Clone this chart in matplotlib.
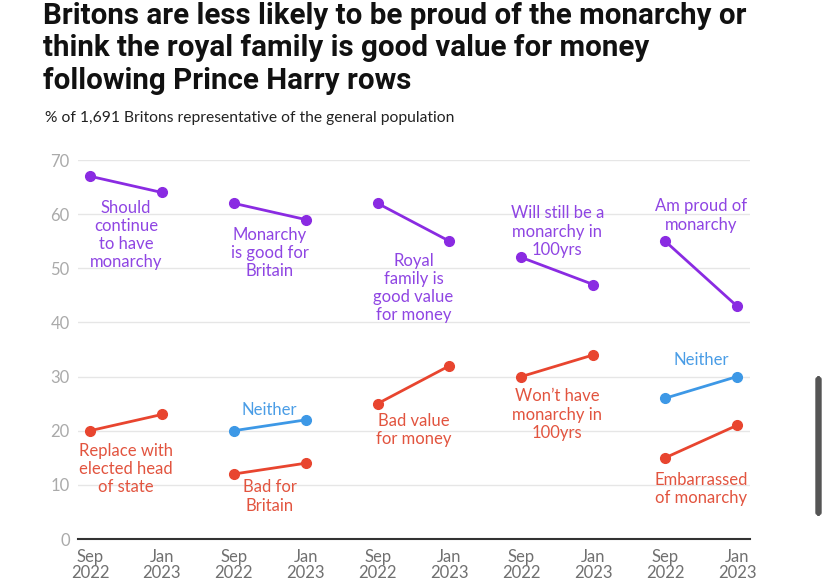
import matplotlib.pyplot as plt
from matplotlib.patches import FancyBboxPatch

# panel x positions (Sep 2022 / Jan 2023 pairs)
xs = [(0, 1), (2, 3), (4, 5), (6, 7), (8, 9)]
x_labels = ["Sep\n2022", "Jan\n2023"] * 5

purple_vals = [(67, 64), (62, 59), (62, 55), (52, 47), (55, 43)]
purple_labels = ["Should\ncontinue\nto have\nmonarchy", "Monarchy\nis good for\nBritain",
                 "Royal\nfamily is\ngood value\nfor money", "Will still be a\nmonarchy in\n100yrs",
                 "Am proud of\nmonarchy"]
purple_label_y = [62.6, 57.6, 52.8, 61.6, 62.9]

red_vals = [(20, 23), (12, 14), (25, 32), (30, 34), (15, 21)]
red_labels = ["Replace with\nelected head\nof state", "Bad for\nBritain", "Bad value\nfor money",
              "Won\u2019t have\nmonarchy in\n100yrs", "Embarrassed\nof monarchy"]
red_label_y = [17.7, 11.0, 23.2, 27.8, 12.3]

blue_panels = [1, 4]
blue_vals = [(20, 22), (26, 30)]
blue_label_y = [23.8, 33.0]

PURPLE = "#8a2be2"
PURPLE_TXT = "#8f45e3"
RED = "#e8452f"
RED_TXT = "#e2543f"
BLUE = "#3d98e6"
BLUE_TXT = "#4a9de6"

plt.rcParams['font.family'] = ['Lato', 'DejaVu Sans']

fig = plt.figure(figsize=(8.28, 5.87), dpi=100)
ax = fig.add_axes([78 / 828, 1 - 539 / 587, 672 / 828, 379 / 587])
ax.set_xlim(-0.167, 9.18)
ax.set_ylim(0, 70)

fs = 12
ls = 1.16
for i, (a, b) in enumerate(xs):
    ax.plot([a, b], purple_vals[i], color=PURPLE, lw=2, marker='o', ms=7, clip_on=False, zorder=3)
    ax.plot([a, b], red_vals[i], color=RED, lw=2, marker='o', ms=7, clip_on=False, zorder=3)
    ax.text((a + b) / 2, purple_label_y[i], purple_labels[i], color=PURPLE_TXT, fontsize=fs,
            ha='center', va='top', linespacing=ls)
    ax.text((a + b) / 2, red_label_y[i], red_labels[i], color=RED_TXT, fontsize=fs,
            ha='center', va='top', linespacing=ls)

for j, p in enumerate(blue_panels):
    a, b = xs[p]
    ax.plot([a, b], blue_vals[j], color=BLUE, lw=2, marker='o', ms=7, clip_on=False, zorder=3)
    ax.text((a + b) / 2, blue_label_y[j], "Neither", color=BLUE_TXT, fontsize=fs,
            ha='center', va='center')

ax.set_yticks(range(0, 71, 10))
ax.set_xticks(range(10))
ax.set_xticklabels(x_labels, color="#707070", fontsize=fs, linespacing=1.0)
ax.tick_params(axis='y', colors="#aaaaaa", labelsize=fs, length=0, pad=6)
ax.tick_params(axis='x', length=0, pad=7)
for lab in ax.get_yticklabels():
    lab.set_color("#aaaaaa")
ax.grid(axis='y', color="#e6e6e6", lw=1)
ax.set_axisbelow(True)
for s in ['top', 'right', 'left']:
    ax.spines[s].set_visible(False)
ax.spines['bottom'].set_color("#333333")
ax.spines['bottom'].set_linewidth(1.5)

fig.text(43 / 828, 1 - 2 / 587,
         "Britons are less likely to be proud of the monarchy or\n"
         "think the royal family is good value for money\n"
         "following Prince Harry rows",
         fontsize=21.25, fontweight='bold', family=['Roboto', 'DejaVu Sans'],
         va='top', ha='left', color="#111111", linespacing=1.2)
fig.text(45 / 828, 1 - 118 / 587, "% of 1,691 Britons representative of the general population",
         fontsize=11.25, va='center', ha='left', color="#222222")

# scrollbar from the screenshot
fig.patches.append(FancyBboxPatch((816 / 828, 1 - 515 / 587), 5 / 828, 138 / 587,
                                  boxstyle="round,pad=0,rounding_size=0.004",
                                  transform=fig.transFigure, color="#555555", zorder=5))

fig.savefig("out.png", dpi=100)
